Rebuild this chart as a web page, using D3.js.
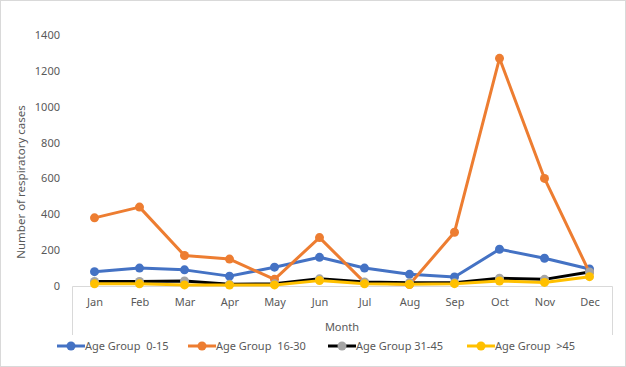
<!DOCTYPE html>
<html>
<head>
<meta charset="utf-8">
<script src="https://cdn.jsdelivr.net/npm/d3@7"></script>
<style>
  body { margin: 0; background: #fff; }
  text { font-family: "Noto Sans", "Liberation Sans", sans-serif; fill: #595959; white-space: pre; }
</style>
</head>
<body>
<div id="chart"></div>
<script>
var months = ["Jan", "Feb", "Mar", "Apr", "May", "Jun", "Jul", "Aug", "Sep", "Oct", "Nov", "Dec"];
var yTicks = [0, 200, 400, 600, 800, 1000, 1200, 1400];

var age0to15 = [80, 100, 90, 55, 105, 160, 100, 65, 50, 205, 155, 95];
var age16to30 = [380, 440, 170, 150, 37, 270, 20, 8, 300, 1270, 600, 75];
var age31to45 = [25, 25, 28, 10, 12, 40, 22, 18, 18, 43, 37, 78];
var ageOver45 = [12, 12, 6, 5, 6, 30, 12, 10, 13, 28, 20, 52];

var series = [
  { name: "Age Group  0-15", values: age0to15, line: "#4472C4", dot: "#4472C4" },
  { name: "Age Group  16-30", values: age16to30, line: "#ED7D31", dot: "#ED7D31" },
  { name: "Age Group 31-45", values: age31to45, line: "#000000", dot: "#A5A5A5" },
  { name: "Age Group  >45", values: ageOver45, line: "#FFC000", dot: "#FFC000" }
];

var width = 626, height = 367;
var plotLeft = 72, plotRight = 612, plotTop = 35, plotBottom = 286;

var svg = d3.select("#chart").append("svg")
    .attr("width", width)
    .attr("height", height);

// outer frame
svg.append("rect")
    .attr("x", 0.5).attr("y", 0.5)
    .attr("width", width - 1).attr("height", height - 1)
    .attr("fill", "none").attr("stroke", "#d9d9d9");

var x = d3.scalePoint().domain(months).range([plotLeft, plotRight]).padding(0.5);
var y = d3.scaleLinear().domain([0, 1400]).range([plotBottom, plotTop]);

// y axis labels (no line)
var yAxis = svg.append("g")
    .attr("transform", "translate(" + (plotLeft - 12) + ",0)")
    .call(d3.axisLeft(y).tickValues(yTicks).tickFormat(d3.format("d")).tickSize(0).tickPadding(0));
yAxis.select(".domain").remove();
yAxis.selectAll("text").attr("font-size", 11).attr("fill", "#595959")
    .style("font-family", "Noto Sans");

// x axis
var xAxis = svg.append("g")
    .attr("transform", "translate(0," + plotBottom + ")")
    .call(d3.axisBottom(x).tickSize(0).tickPadding(12));
xAxis.select(".domain").remove();
xAxis.selectAll("text").attr("font-size", 11).attr("fill", "#595959")
    .style("font-family", "Noto Sans");

// axis line and the frame below it
svg.append("path")
    .attr("d", "M" + (plotLeft + 0.5) + ",335V" + (plotBottom + 0.5) + "H" + (plotRight + 0.5) + "V335")
    .attr("fill", "none").attr("stroke", "#d9d9d9");

svg.append("text")
    .attr("x", (plotLeft + plotRight) / 2).attr("y", 331)
    .attr("text-anchor", "middle")
    .attr("font-size", 11)
    .text("Month");

svg.append("text")
    .attr("transform", "translate(25,182) rotate(-90)")
    .attr("text-anchor", "middle")
    .attr("font-size", 11.5)
    .text("Number of respiratory cases");

var line = d3.line()
    .x(function(d, i) { return x(months[i]); })
    .y(function(d) { return y(d); });

series.forEach(function(s) {
  var g = svg.append("g");
  g.append("path")
      .attr("d", line(s.values))
      .attr("fill", "none")
      .attr("stroke", s.line)
      .attr("stroke-width", 3)
      .attr("stroke-linejoin", "round");
  g.selectAll("circle").data(s.values).enter().append("circle")
      .attr("cx", function(d, i) { return x(months[i]); })
      .attr("cy", function(d) { return y(d); })
      .attr("r", 4.5)
      .attr("fill", s.dot);
});

// legend
var legendX = [57, 188, 328, 467];
var legend = svg.append("g").attr("transform", "translate(0,346)");
series.forEach(function(s, i) {
  var lg = legend.append("g").attr("transform", "translate(" + legendX[i] + ",0)");
  lg.append("line")
      .attr("x1", 0).attr("x2", 28)
      .attr("stroke", s.line).attr("stroke-width", 3);
  lg.append("circle").attr("cx", 14).attr("r", 4.5).attr("fill", s.dot);
  lg.append("text")
      .attr("x", 28).attr("dy", "0.35em")
      .attr("font-size", 11)
      .text(s.name);
});
</script>
</body>
</html>
